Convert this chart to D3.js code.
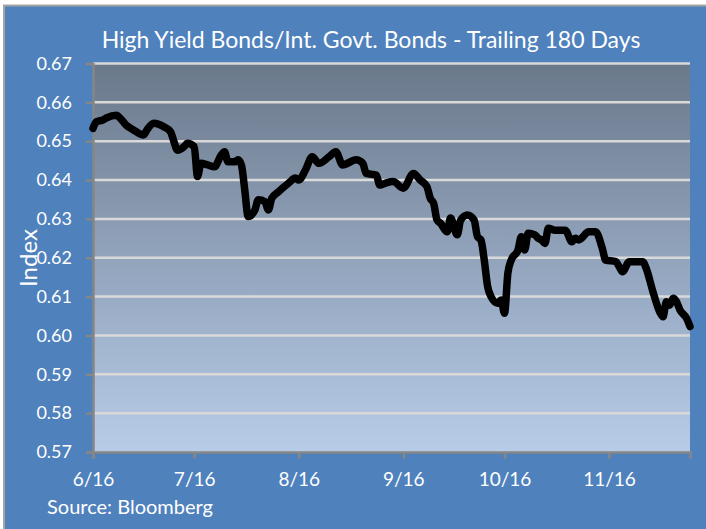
<!DOCTYPE html>
<html>
<head>
<meta charset="utf-8">
<script src="https://cdn.jsdelivr.net/npm/d3@7"></script>
<style>
  html, body { margin: 0; padding: 0; background: #ffffff; }
  svg { display: block; }
  text { font-family: Lato, "Open Sans", "DejaVu Sans", sans-serif; fill: #ffffff; }
</style>
</head>
<body>
<svg id="chart" width="706" height="529"></svg>
<script>
// High yield / intermediate government bond ratio, daily closes
const dates = [
  "2016-06-01","2016-06-02","2016-06-04","2016-06-05","2016-06-08","2016-06-09","2016-06-11","2016-06-13",
  "2016-06-16","2016-06-17","2016-06-19","2016-06-22","2016-06-24","2016-06-25","2016-06-26","2016-06-28",
  "2016-06-29","2016-07-01","2016-07-02","2016-07-03","2016-07-05","2016-07-07","2016-07-09","2016-07-10",
  "2016-07-11","2016-07-13","2016-07-14","2016-07-15","2016-07-16","2016-07-17","2016-07-19","2016-07-20",
  "2016-07-22","2016-07-23","2016-07-24","2016-07-26","2016-07-29","2016-07-31","2016-08-01","2016-08-03",
  "2016-08-05","2016-08-07","2016-08-10","2016-08-12","2016-08-14","2016-08-18","2016-08-20","2016-08-21",
  "2016-08-24","2016-08-25","2016-08-27","2016-08-29","2016-09-01","2016-09-04","2016-09-06","2016-09-08",
  "2016-09-09","2016-09-10","2016-09-11","2016-09-12","2016-09-14","2016-09-15","2016-09-17","2016-09-18",
  "2016-09-20","2016-09-22","2016-09-23","2016-09-24","2016-09-25","2016-09-26","2016-09-27","2016-09-29",
  "2016-09-30","2016-10-01","2016-10-02","2016-10-03","2016-10-05","2016-10-06","2016-10-07","2016-10-08",
  "2016-10-10","2016-10-11","2016-10-12","2016-10-13","2016-10-14","2016-10-16","2016-10-19","2016-10-21",
  "2016-10-22","2016-10-23","2016-10-26","2016-10-28","2016-10-30","2016-10-31","2016-11-03","2016-11-04",
  "2016-11-05","2016-11-07","2016-11-11","2016-11-12","2016-11-14","2016-11-16","2016-11-17","2016-11-18",
  "2016-11-19","2016-11-20","2016-11-21","2016-11-22","2016-11-24","2016-11-25"
];
const ratio = [
  0.6533,0.6550,0.6555,0.6560,0.6567,0.6560,0.6540,0.6529,
  0.6516,0.6529,0.6546,0.6537,0.6524,0.6499,0.6477,0.6486,
  0.6495,0.6486,0.6409,0.6443,0.6439,0.6434,0.6464,0.6473,
  0.6447,0.6447,0.6452,0.6439,0.6374,0.6306,0.6323,0.6349,
  0.6344,0.6323,0.6353,0.6370,0.6392,0.6405,0.6400,0.6426,
  0.6460,0.6443,0.6460,0.6473,0.6439,0.6452,0.6443,0.6417,
  0.6413,0.6387,0.6393,0.6396,0.6379,0.6417,0.6400,0.6383,
  0.6353,0.6340,0.6297,0.6289,0.6267,0.6302,0.6259,0.6297,
  0.6310,0.6297,0.6254,0.6246,0.6194,0.6126,0.6100,0.6083,
  0.6091,0.6057,0.6160,0.6194,0.6220,0.6254,0.6220,0.6263,
  0.6259,0.6250,0.6246,0.6237,0.6276,0.6271,0.6271,0.6241,
  0.6250,0.6246,0.6267,0.6267,0.6224,0.6194,0.6190,0.6177,
  0.6164,0.6190,0.6190,0.6173,0.6113,0.6061,0.6048,0.6087,
  0.6078,0.6096,0.6087,0.6066,0.6044,0.6023
];
const yTicks = [0.57,0.58,0.59,0.60,0.61,0.62,0.63,0.64,0.65,0.66,0.67];
const xTickDates = ["2016-06-01","2016-07-01","2016-08-01","2016-09-01","2016-10-01","2016-11-01"];
const xDomain = ["2016-06-01","2016-11-25"];

const titleText = "High Yield Bonds/Int. Govt. Bonds - Trailing 180 Days";
const yTitle = "Index";
const sourceText = "Source: Bloomberg";

const parse = d3.timeParse("%Y-%m-%d");
const series = dates.map((d, i) => ({ date: parse(d), value: ratio[i] }));

const svg = d3.select("#chart");
const W = 706, H = 529;
const plot = { left: 93, right: 690, top: 63.5, bottom: 452 };

// chart frame
svg.append("rect")
  .attr("x", 4).attr("y", 5.5).attr("width", W).attr("height", H)
  .attr("fill", "#4F81BD").attr("stroke", "#A5A5A5").attr("stroke-width", 2);

// plot area gradient
const defs = svg.append("defs");
const grad = defs.append("linearGradient").attr("id", "plotFill")
  .attr("x1", 0).attr("y1", 0).attr("x2", 0).attr("y2", 1);
grad.append("stop").attr("offset", "0%").attr("stop-color", "#6A788A");
grad.append("stop").attr("offset", "50%").attr("stop-color", "#92A4BC");
grad.append("stop").attr("offset", "100%").attr("stop-color", "#B8CCE8");

svg.append("rect")
  .attr("x", plot.left).attr("y", plot.top)
  .attr("width", plot.right - plot.left).attr("height", plot.bottom - plot.top)
  .attr("fill", "url(#plotFill)");

const x = d3.scaleTime()
  .domain(xDomain.map(parse))
  .range([plot.left, plot.right]);
const y = d3.scaleLinear()
  .domain([0.57, 0.67])
  .range([plot.bottom, plot.top]);

// horizontal gridlines
svg.append("g")
  .selectAll("line")
  .data(yTicks.filter(t => t > 0.57))
  .join("line")
  .attr("x1", plot.left).attr("x2", plot.right)
  .attr("y1", d => y(d)).attr("y2", d => y(d))
  .attr("stroke", "#D9D9D9").attr("stroke-width", 2.5);

// y axis
const yAxis = svg.append("g")
  .attr("transform", `translate(${plot.left},0)`)
  .call(d3.axisLeft(y).tickValues(yTicks).tickFormat(d3.format(".2f")).tickSize(7).tickPadding(14));
yAxis.select(".domain").attr("stroke", "#868686").attr("stroke-width", 2.5);
yAxis.selectAll(".tick line").attr("stroke", "#868686").attr("stroke-width", 2.5);
yAxis.selectAll(".tick text")
  .attr("fill", "#ffffff").style("font-size", "18px")
  .style("font-family", "Lato, 'Open Sans', sans-serif");

// x axis
const xAxis = svg.append("g")
  .attr("transform", `translate(0,${plot.bottom})`)
  .call(d3.axisBottom(x).tickValues(xTickDates.map(parse))
    .tickFormat(d3.timeFormat("%-m/%y")).tickSize(7).tickPadding(14));
xAxis.select(".domain").attr("stroke", "#868686").attr("stroke-width", 2.5);
xAxis.selectAll(".tick line").attr("stroke", "#868686").attr("stroke-width", 2.5);
xAxis.selectAll(".tick text")
  .attr("fill", "#ffffff").style("font-size", "19px")
  .style("font-family", "Lato, 'Open Sans', sans-serif");

// ratio line
const line = d3.line()
  .x(d => x(d.date))
  .y(d => y(d.value))
  .curve(d3.curveMonotoneX);
svg.append("path")
  .datum(series)
  .attr("d", line)
  .attr("fill", "none")
  .attr("stroke", "#000000")
  .attr("stroke-width", 7.5)
  .attr("stroke-linejoin", "round")
  .attr("stroke-linecap", "round");

// titles
svg.append("text")
  .attr("x", 371).attr("y", 48)
  .attr("text-anchor", "middle")
  .style("font-size", "23px")
  .text(titleText);

svg.append("text")
  .attr("transform", "translate(37,258) rotate(-90)")
  .attr("text-anchor", "middle")
  .style("font-size", "24px")
  .text(yTitle);

svg.append("text")
  .attr("x", 47).attr("y", 514)
  .style("font-size", "20px")
  .text(sourceText);
</script>
</body>
</html>
